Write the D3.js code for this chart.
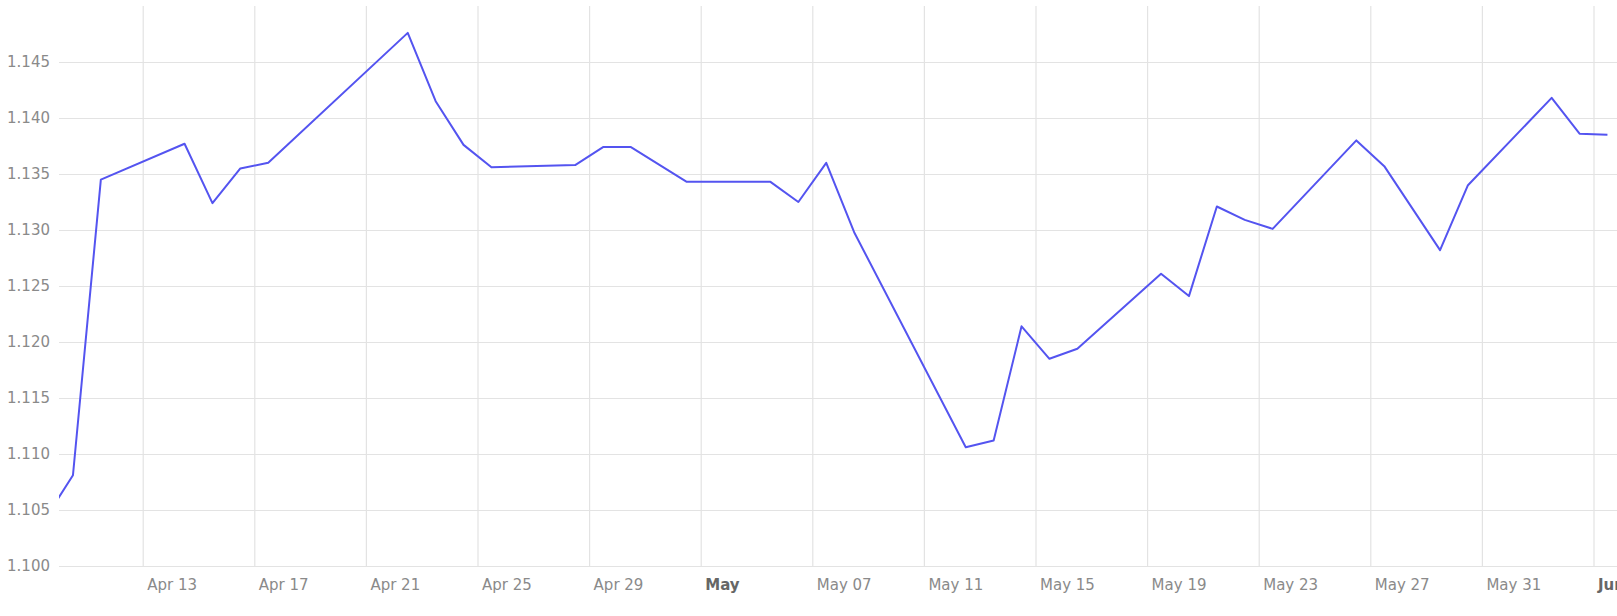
<!DOCTYPE html>
<html>
<head>
<meta charset="utf-8">
<script src="https://cdn.jsdelivr.net/npm/d3@7"></script>
<style>
  body { margin: 0; background: #fff; }
  svg { display: block; }
  .grid line { stroke: #e3e3e3; stroke-width: 1.2; }
  .tick text { fill: #8a8a8a; font-size: 15px; font-family: "DejaVu Sans", Verdana, sans-serif; }
  .tick text.month { fill: #666; font-weight: bold; }
</style>
</head>
<body>
<div id="chart"></div>
<script>

var svgWidth = 1617;
var svgHeight = 616;

var margin = { top: 6, right: 0, bottom: 50, left: 59 };

var width = svgWidth - margin.left - margin.right;
var height = svgHeight - margin.top - margin.bottom;

// daily closes (first one lies left of the visible window and gets clipped)
var dates = [
  "2019-04-09", "2019-04-10", "2019-04-11", "2019-04-14", "2019-04-15", "2019-04-16",
  "2019-04-17", "2019-04-22", "2019-04-23", "2019-04-24", "2019-04-25", "2019-04-28",
  "2019-04-29", "2019-04-30", "2019-05-02", "2019-05-05", "2019-05-06", "2019-05-07",
  "2019-05-08", "2019-05-12", "2019-05-13", "2019-05-14", "2019-05-15", "2019-05-16",
  "2019-05-19", "2019-05-20", "2019-05-21", "2019-05-22", "2019-05-23", "2019-05-26",
  "2019-05-27", "2019-05-29", "2019-05-30", "2019-06-02", "2019-06-03", "2019-06-04"
];
var values = [
  1.1042, 1.1081, 1.1345, 1.1377, 1.1324, 1.1355,
  1.1360, 1.1476, 1.1415, 1.1376, 1.1356, 1.1358,
  1.1374, 1.1374, 1.1343, 1.1343, 1.1325, 1.1360,
  1.1298, 1.1106, 1.1112, 1.1214, 1.1185, 1.1194,
  1.1261, 1.1241, 1.1321, 1.1309, 1.1301, 1.1380,
  1.1357, 1.1282, 1.1340, 1.1418, 1.1386, 1.1385
];

var tickDates = [
  "2019-04-13", "2019-04-17", "2019-04-21", "2019-04-25", "2019-04-29", "2019-05-03", "2019-05-07",
  "2019-05-11", "2019-05-15", "2019-05-19", "2019-05-23", "2019-05-27", "2019-05-31", "2019-06-04"
];
var tickLabels = [
  "Apr 13", "Apr 17", "Apr 21", "Apr 25", "Apr 29", "May", "May 07",
  "May 11", "May 15", "May 19", "May 23", "May 27", "May 31", "Jun"
];
var yTicks = [1.100, 1.105, 1.110, 1.115, 1.120, 1.125, 1.130, 1.135, 1.140, 1.145];

var parseDate = d3.utcParse("%Y-%m-%d");

var chartData = dates.map(function(d, i) {
  return { date: parseDate(d), value: values[i] };
});
var tickDateObjs = tickDates.map(parseDate);

var svg = d3.select("#chart")
  .append("svg")
  .attr("width", svgWidth)
  .attr("height", svgHeight);

var chartGroup = svg.append("g")
  .attr("transform", `translate(${margin.left}, ${margin.top})`);

svg.append("clipPath")
  .attr("id", "plotClip")
  .append("rect")
  .attr("x", margin.left)
  .attr("y", 0)
  .attr("width", width)
  .attr("height", svgHeight);

var xScale = d3.scaleUtc()
  .domain([parseDate("2019-04-10"), parseDate("2019-06-05")])
  .range([0, 56 * 27.9]);

var yScale = d3.scaleLinear()
  .domain([1.100, 1.150])
  .range([height, 0]);

// points sit in the middle of their day
var xPos = d => xScale(d3.utcHour.offset(d.date, 12));

// y grid + labels
var leftAxis = d3.axisLeft(yScale)
  .tickValues(yTicks)
  .tickFormat(d3.format(".3f"))
  .tickSize(-width)
  .tickPadding(9);

var yAxisG = chartGroup.append("g")
  .attr("class", "grid")
  .call(leftAxis);
yAxisG.select(".domain").remove();

// x grid + labels
var bottomAxis = d3.axisBottom(xScale)
  .tickValues(tickDateObjs)
  .tickFormat((d, i) => tickLabels[i])
  .tickSize(height);

var xAxisG = chartGroup.append("g")
  .attr("class", "grid")
  .call(bottomAxis);
xAxisG.select(".domain").remove();
xAxisG.selectAll(".tick text")
  .attr("text-anchor", "start")
  .attr("x", 4)
  .attr("y", height + 24)
  .attr("dy", 0)
  .classed("month", (d, i) => !/\d/.test(tickLabels[i]));

var line = d3.line()
  .x(xPos)
  .y(d => yScale(d.value));

svg.append("g")
  .attr("clip-path", "url(#plotClip)")
  .append("path")
  .attr("transform", `translate(${margin.left}, ${margin.top})`)
  .datum(chartData)
  .attr("fill", "none")
  .attr("stroke", "#5454f0")
  .attr("stroke-width", 2)
  .attr("stroke-linejoin", "round")
  .attr("d", line);

</script>
</body>
</html>
